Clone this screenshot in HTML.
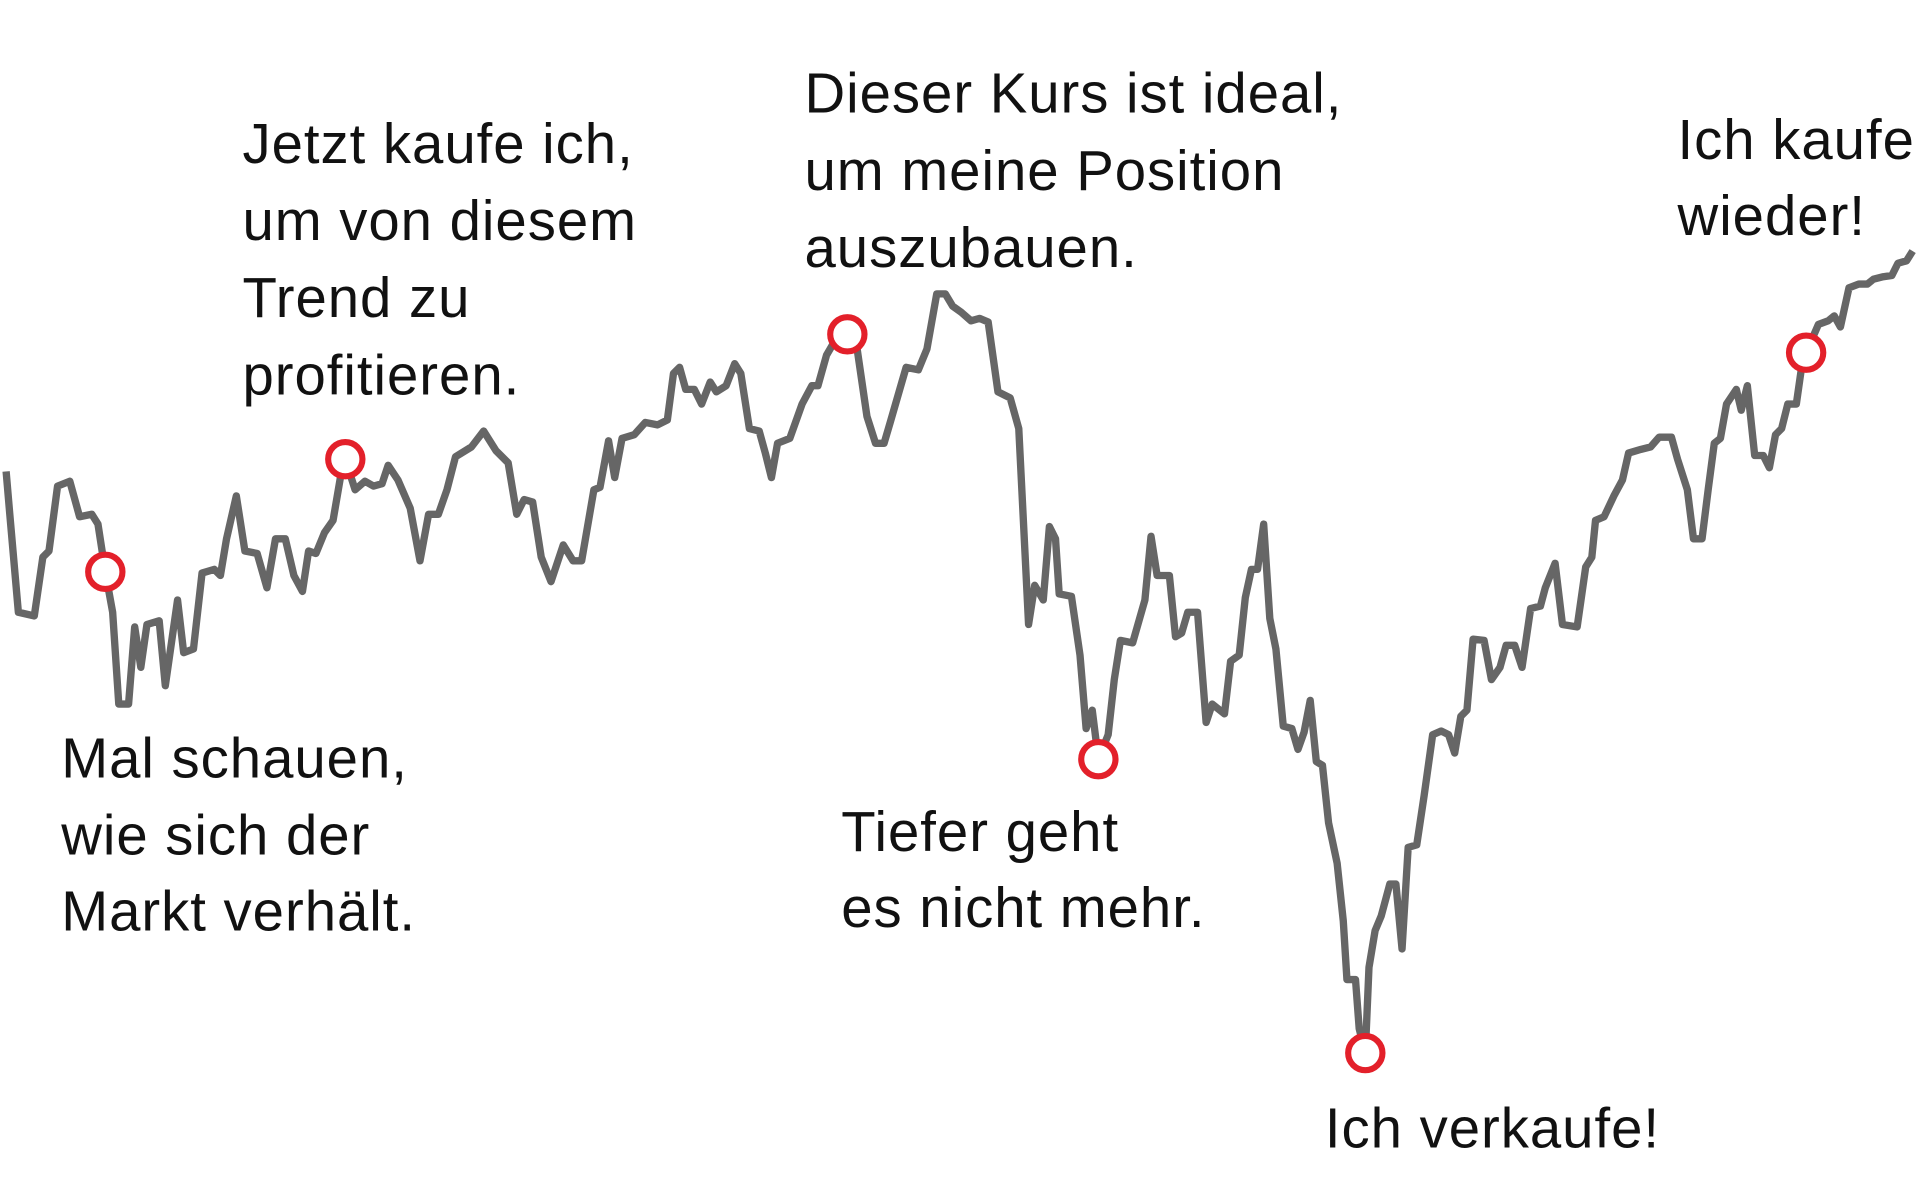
<!DOCTYPE html>
<html><head><meta charset="utf-8"><style>
html,body{margin:0;padding:0;background:#fff;}
svg{display:block;}
text{font-family:"Liberation Sans",sans-serif;font-size:46px;letter-spacing:0.8px;fill:#111;}
</style></head><body>
<svg width="1920" height="1200" viewBox="0 0 1568 980" preserveAspectRatio="none">
<rect width="1568" height="980" fill="#fff"/>
<polyline fill="none" stroke="#666" stroke-width="6" stroke-linejoin="round" points="5,385 8,420 15,500 28,503 35,455 40,450 47,397 57,393 65,422 75,420 80,428 86,467 92,500 97,575 105,575 110,512 115,545 120,510 130,507 135,560 145,490 150,533 158,530 165,468 175,465 180,470 185,440 193,405 200,450 210,452 218,480 225,440 233,440 240,470 247,483 252,450 258,452 265,435 272,425 278,390 282,375 290,400 298,393 305,397 312,395 317,380 325,392 335,415 343,458 350,420 358,420 365,400 372,373 385,365 395,352 405,368 415,378 422,420 428,408 435,410 442,455 450,475 455,460 460,445 468,458 475,458 485,400 490,398 497,360 502,390 508,358 518,355 527,345 537,347 545,343 550,305 555,300 560,318 567,318 573,330 580,312 585,320 593,315 600,297 605,305 612,350 620,352 625,370 630,390 635,362 645,358 655,330 663,315 668,315 675,290 682,278 692,273 700,285 708,340 715,362 722,362 727,345 740,300 750,302 757,285 765,240 772,240 778,250 785,255 793,262 800,260 807,263 815,320 825,325 832,350 840,510 845,478 852,490 857,430 862,440 865,485 875,487 882,535 887,595 892,580 897,620 905,600 910,555 915,523 925,525 935,490 940,438 945,470 955,470 960,520 965,517 970,500 978,500 985,590 990,575 1000,583 1005,540 1012,535 1017,488 1022,465 1027,465 1032,428 1037,505 1042,530 1048,593 1055,595 1060,612 1065,598 1070,572 1075,622 1080,625 1085,672 1092,705 1097,752 1100,800 1107,800 1110,840 1115,860 1118,790 1123,760 1128,748 1135,722 1140,722 1145,775 1150,692 1157,690 1163,650 1170,600 1177,597 1183,600 1188,615 1193,585 1198,580 1203,522 1212,523 1218,555 1225,545 1230,527 1237,527 1243,545 1250,497 1258,495 1262,480 1270,460 1276,510 1288,512 1295,463 1300,455 1303,425 1310,422 1318,405 1325,392 1330,370 1340,367 1348,365 1355,357 1365,357 1370,375 1378,400 1383,440 1390,440 1395,400 1400,362 1405,358 1410,330 1418,318 1422,335 1427,315 1433,372 1440,372 1445,382 1450,355 1455,350 1460,330 1467,330 1472,295 1475,288 1485,265 1493,262 1498,258 1503,267 1510,235 1518,232 1525,232 1530,228 1538,226 1545,225 1550,215 1557,213 1562,205"/>
<g fill="#fff" stroke="#e3202a" stroke-width="5">
<circle cx="86" cy="467" r="14"/>
<circle cx="282" cy="375" r="14"/>
<circle cx="692" cy="273" r="14"/>
<circle cx="897" cy="620" r="14"/>
<circle cx="1115" cy="860" r="14"/>
<circle cx="1475" cy="288" r="14"/>
</g>
<text x="198" y="133">Jetzt kaufe ich,</text>
<text x="198" y="196">um von diesem</text>
<text x="198" y="259">Trend zu</text>
<text x="198" y="322">profitieren.</text>
<text x="50" y="635">Mal schauen,</text>
<text x="50" y="698">wie sich der</text>
<text x="50" y="760">Markt verhält.</text>
<text x="657" y="92">Dieser Kurs ist ideal,</text>
<text x="657" y="155">um meine Position</text>
<text x="657" y="218">auszubauen.</text>
<text x="687" y="695">Tiefer geht</text>
<text x="687" y="757">es nicht mehr.</text>
<text x="1082" y="937">Ich verkaufe!</text>
<text x="1370" y="130">Ich kaufe</text>
<text x="1370" y="192">wieder!</text>
</svg>
</body></html>
